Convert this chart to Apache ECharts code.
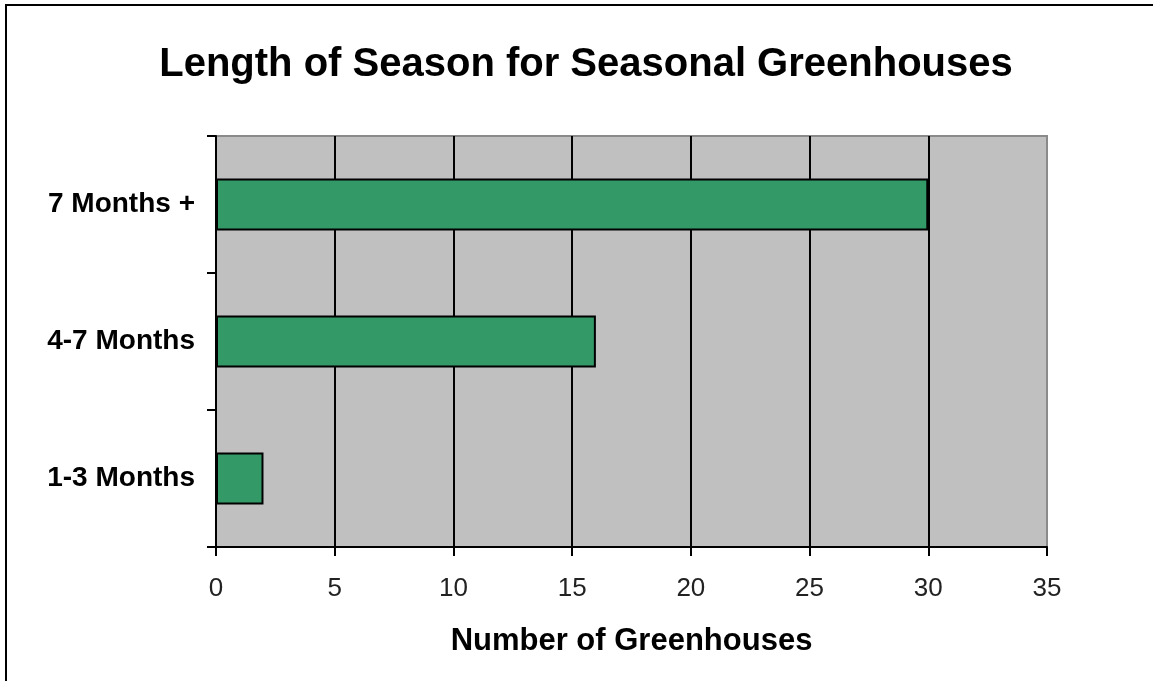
<!DOCTYPE html>
<html>
<head>
<meta charset="utf-8">
<script src="https://cdn.jsdelivr.net/npm/echarts@6/dist/echarts.min.js"></script>
<style>
  html, body { margin: 0; padding: 0; background: #ffffff; }
  #chart { width: 1153px; height: 681px; }
</style>
</head>
<body>
<div id="chart"></div>
<script>
// Season length groups, bottom to top
const categories = ['1-3 Months', '4-7 Months', '7 Months +'];
// Number of greenhouses in each group
const greenhouseCounts = [2, 16, 30];
// Horizontal value axis range and step
const axisMin = 0;
const axisMax = 35;
const axisStep = 5;

const chart = echarts.init(document.getElementById('chart'), null, { renderer: 'canvas' });

const FONT = '"Liberation Sans", Arial, Helvetica, sans-serif';

chart.setOption({
  animation: false,
  backgroundColor: '#ffffff',
  graphic: [
    {
      // frame around the whole chart
      type: 'rect',
      shape: { x: 6, y: 5, width: 1300, height: 900 },
      style: { fill: 'none', stroke: '#000000', lineWidth: 2 },
      silent: true,
      z: 10
    },
    {
      type: 'text',
      x: 586,
      y: 65,
      style: {
        text: 'Length of Season for Seasonal Greenhouses',
        fontFamily: FONT,
        fontWeight: 'bold',
        fontSize: 40,
        fill: '#000000',
        align: 'center',
        verticalAlign: 'middle'
      },
      z: 10
    }
  ],
  grid: {
    left: 216,
    right: 1153 - 1047,
    top: 136,
    bottom: 681 - 547,
    show: true,
    backgroundColor: '#c0c0c0',
    borderColor: '#8a8a8a',
    borderWidth: 2
  },
  xAxis: {
    type: 'value',
    min: axisMin,
    max: axisMax,
    interval: axisStep,
    name: 'Number of Greenhouses',
    nameLocation: 'middle',
    nameGap: 79,
    nameTextStyle: {
      fontFamily: FONT,
      fontWeight: 'bold',
      fontSize: 31,
      color: '#000000'
    },
    axisLine: { show: true, onZero: false, lineStyle: { color: '#000000', width: 2 } },
    axisTick: { show: true, length: 9, lineStyle: { color: '#000000', width: 2 } },
    axisLabel: {
      margin: 29,
      fontFamily: FONT,
      fontSize: 26,
      color: '#222222'
    },
    splitLine: {
      show: true,
      showMinLine: false,
      showMaxLine: false,
      lineStyle: { color: '#000000', width: 2 }
    }
  },
  yAxis: {
    type: 'category',
    data: categories,
    axisLine: { show: true, lineStyle: { color: '#000000', width: 2 } },
    axisTick: { show: true, length: 9, lineStyle: { color: '#000000', width: 2 } },
    axisLabel: {
      margin: 21,
      fontFamily: FONT,
      fontWeight: 'bold',
      fontSize: 28,
      color: '#000000'
    },
    splitLine: { show: false }
  },
  series: [
    {
      type: 'bar',
      data: greenhouseCounts,
      barWidth: 52,
      itemStyle: {
        color: '#339966',
        borderColor: '#000000',
        borderWidth: 2
      },
      z: 3
    }
  ]
});
</script>
</body>
</html>
